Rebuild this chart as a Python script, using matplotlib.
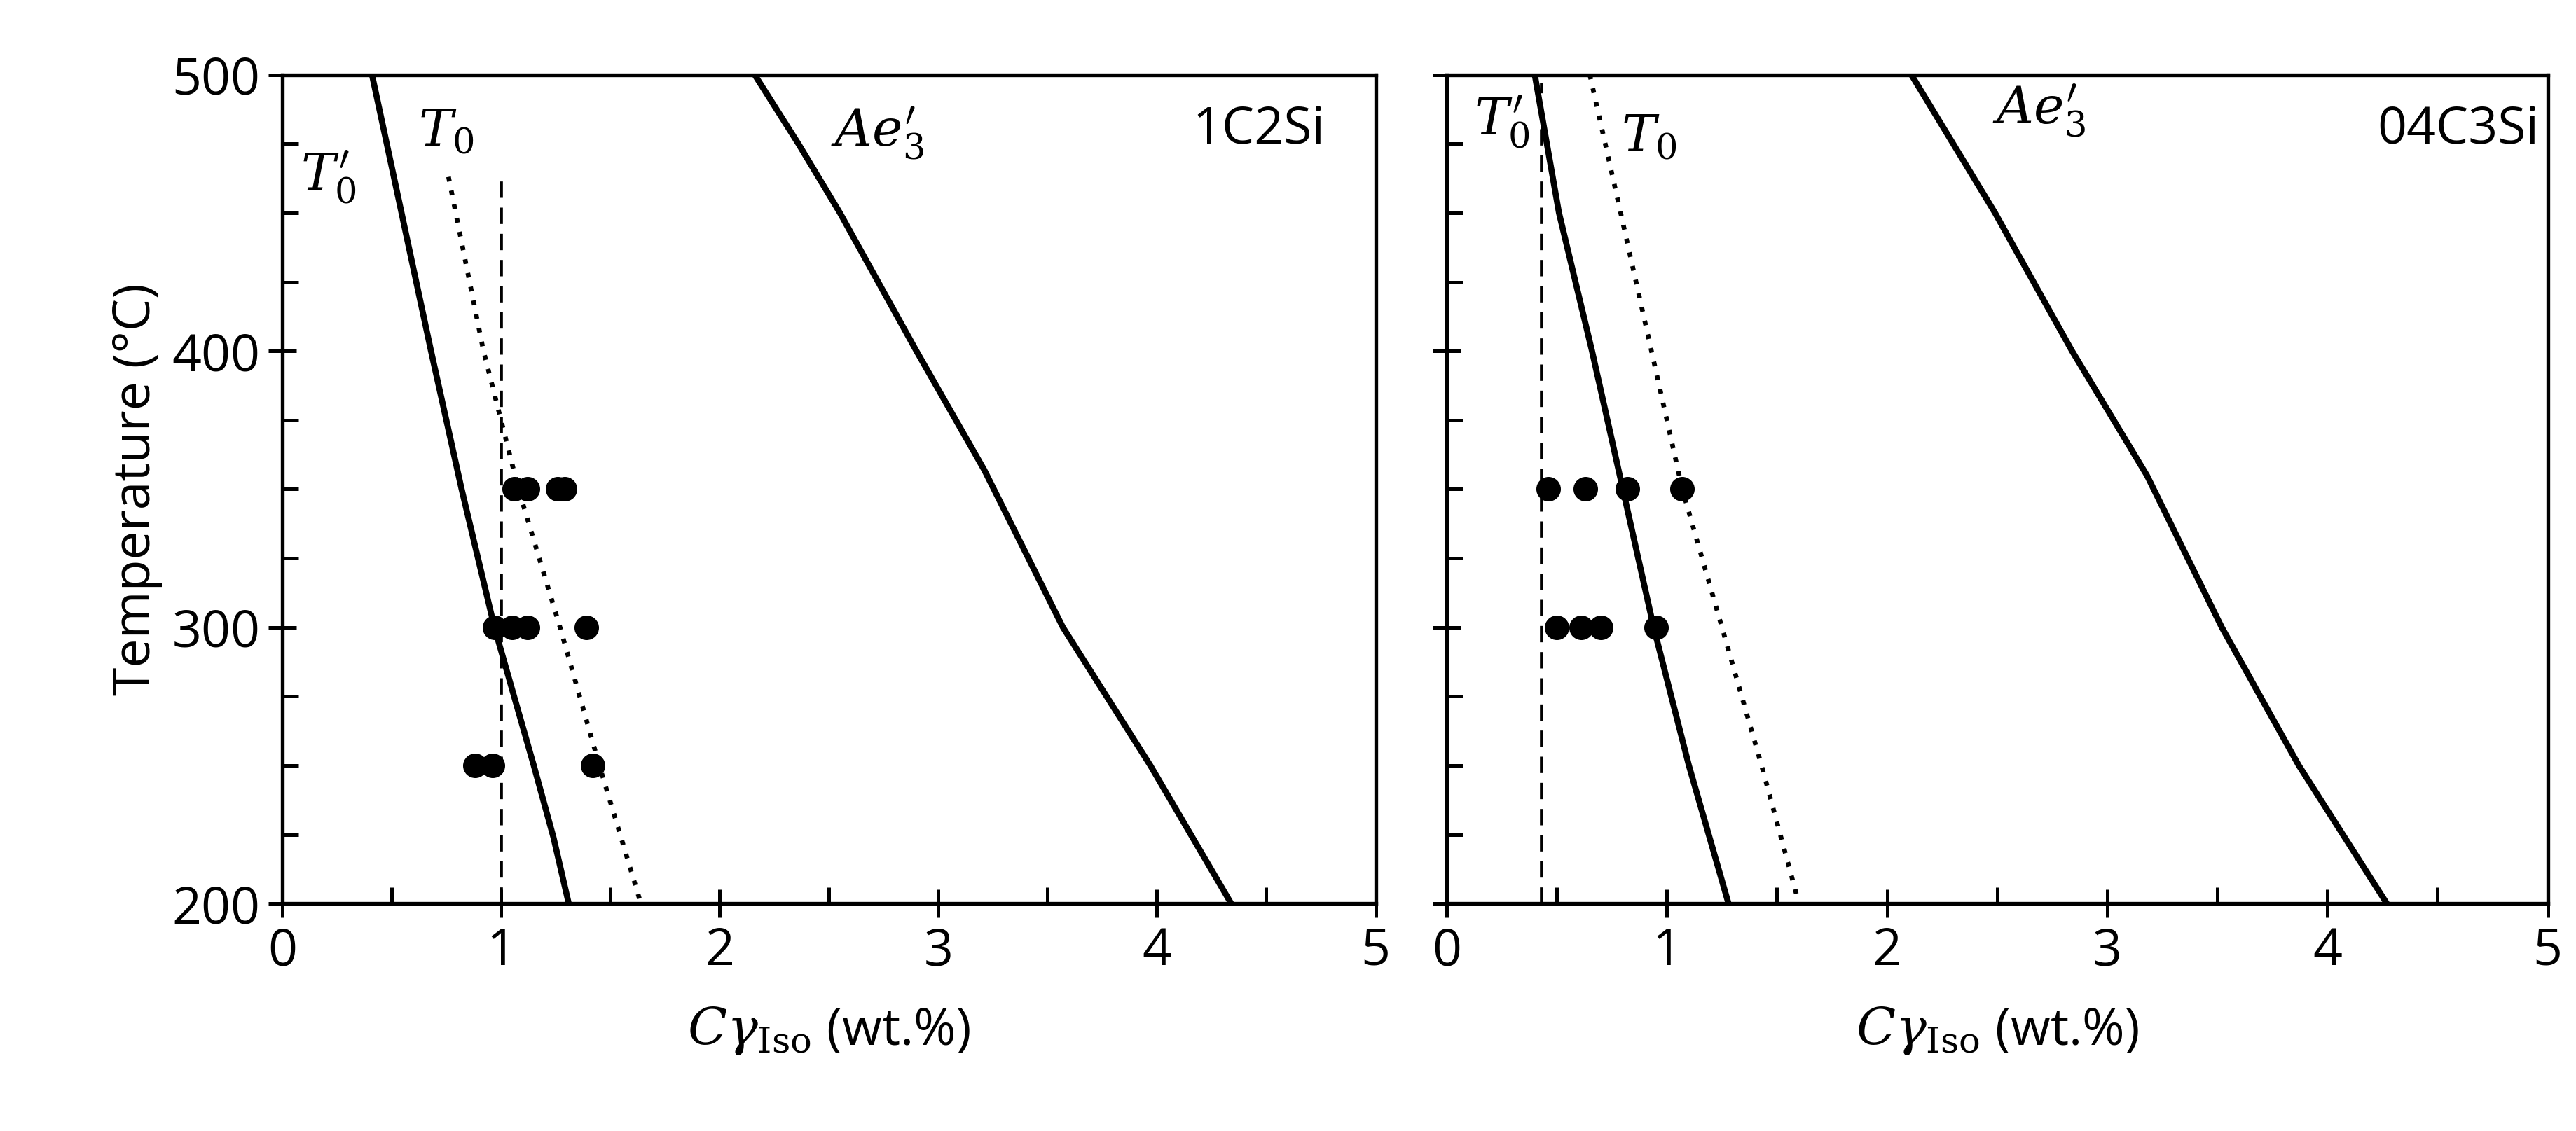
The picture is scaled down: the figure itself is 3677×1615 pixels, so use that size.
import matplotlib
matplotlib.use("Agg")
import matplotlib.pyplot as plt
from matplotlib.ticker import MultipleLocator

plt.rcParams['font.family'] = ['Open Sans', 'DejaVu Sans']
plt.rcParams['mathtext.fontset'] = 'dejavuserif'

# Panel 1: 1C2Si
T_solid1 = [500, 463, 400, 350, 300, 250, 224, 200]
C_solid1 = [0.41, 0.51, 0.68, 0.82, 0.97, 1.15, 1.24, 1.31]
T_dot1 = [463, 400, 350, 300, 250, 200]
C_dot1 = [0.76, 0.92, 1.08, 1.27, 1.45, 1.64]
C_dash1 = 1.0
T_dash1 = [200, 463]
T_ae1 = [500, 475, 450, 400, 357, 300, 250, 200]
C_ae1 = [2.16, 2.36, 2.55, 2.90, 3.21, 3.57, 3.97, 4.34]
pts_C1 = [1.06, 1.12, 1.26, 1.29, 0.97, 1.05, 1.12, 1.39, 0.88, 0.96, 1.42]
pts_T1 = [350, 350, 350, 350, 300, 300, 300, 300, 250, 250, 250]

# Panel 2: 04C3Si
T_solid2 = [500, 450, 400, 350, 300, 250, 200]
C_solid2 = [0.40, 0.51, 0.66, 0.80, 0.94, 1.10, 1.28]
T_dot2 = [500, 400, 350, 300, 250, 200]
C_dot2 = [0.65, 0.93, 1.07, 1.25, 1.43, 1.60]
C_dash2 = 0.43
T_dash2 = [200, 497]
T_ae2 = [500, 450, 400, 355, 300, 250, 200]
C_ae2 = [2.11, 2.49, 2.84, 3.18, 3.52, 3.87, 4.27]
pts_C2 = [0.46, 0.63, 0.82, 1.07, 0.50, 0.61, 0.70, 0.95]
pts_T2 = [350, 350, 350, 350, 300, 300, 300, 300]

fig = plt.figure(figsize=(3677/240, 1615/240), dpi=240)
ax1 = fig.add_axes([0.1096, 0.201, 0.4244, 0.733])
ax2 = fig.add_axes([0.5616, 0.201, 0.4274, 0.733])

panels = [
    (ax1, T_solid1, C_solid1, T_dot1, C_dot1, C_dash1, T_dash1, T_ae1, C_ae1, pts_C1, pts_T1, '1C2Si',
     [(0.21, 463), (0.75, 479), (2.72, 479)], 4.77),
    (ax2, T_solid2, C_solid2, T_dot2, C_dot2, C_dash2, T_dash2, T_ae2, C_ae2, pts_C2, pts_T2, '04C3Si',
     [(0.25, 483), (0.92, 477), (2.69, 487)], 4.96),
]
for (ax, Ts, Cs, Td, Cd, cdash, Tdash, Ta, Ca, pc, pt, name, labpos, namex) in panels:
    ax.plot(Cs, Ts, color='black', lw=2.6)
    ax.plot(Cd, Td, color='black', lw=2.0, linestyle=(0, (1, 2)))
    ax.plot([cdash, cdash], Tdash, color='black', lw=1.4, linestyle=(0, (5, 3)))
    ax.plot(Ca, Ta, color='black', lw=2.6)
    ax.plot(pc, pt, 'o', color='black', ms=9.5)
    ax.set_xlim(0, 5)
    ax.set_ylim(200, 500)
    ax.xaxis.set_major_locator(MultipleLocator(1))
    ax.xaxis.set_minor_locator(MultipleLocator(0.5))
    ax.yaxis.set_major_locator(MultipleLocator(100))
    ax.yaxis.set_minor_locator(MultipleLocator(25))
    ax.tick_params(which='major', direction='inout', length=12, width=1.5, labelsize=22)
    ax.tick_params(which='minor', direction='in', length=7, width=1.5)
    for s in ax.spines.values():
        s.set_linewidth(1.6)
    ax.set_xlabel(r'$C\gamma_{\mathrm{Iso}}$ (wt.%)', fontsize=22, labelpad=12)
    names = [r"$T_0'$", r"$T_0$", r"$Ae_3'$"]
    for (x, y), t in zip(labpos, names):
        ax.text(x, y, t, fontsize=22, ha='center', va='center')
    ax.text(namex, 480, name, fontsize=22, ha='right', va='center')

ax1.set_ylabel('Temperature (°C)', fontsize=22)
ax2.tick_params(axis='y', labelleft=False)

fig.savefig('out.png', dpi=240)
